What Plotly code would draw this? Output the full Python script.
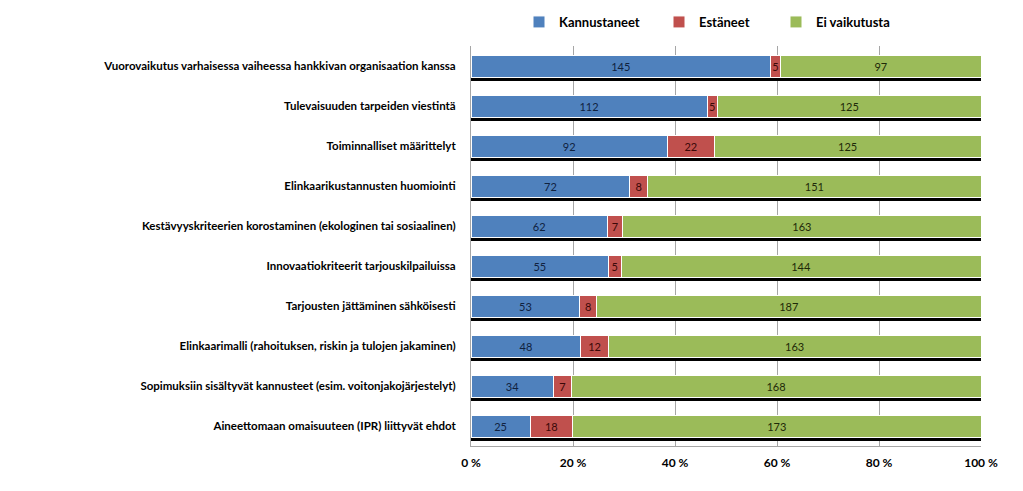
import plotly.graph_objects as go

categories = [
    "Vuorovaikutus varhaisessa vaiheessa hankkivan organisaation kanssa",
    "Tulevaisuuden tarpeiden viestintä",
    "Toiminnalliset määrittelyt",
    "Elinkaarikustannusten huomiointi",
    "Kestävyyskriteerien korostaminen (ekologinen tai sosiaalinen)",
    "Innovaatiokriteerit tarjouskilpailuissa",
    "Tarjousten jättäminen sähköisesti",
    "Elinkaarimalli (rahoituksen, riskin ja tulojen jakaminen)",
    "Sopimuksiin sisältyvät kannusteet (esim. voitonjakojärjestelyt)",
    "Aineettomaan omaisuuteen (IPR) liittyvät ehdot",
]
kannustaneet = [145, 112, 92, 72, 62, 55, 53, 48, 34, 25]
estaneet = [5, 5, 22, 8, 7, 5, 8, 12, 7, 18]
ei_vaikutusta = [97, 125, 125, 151, 163, 144, 187, 163, 168, 173]
tick_vals = [0, 20, 40, 60, 80, 100]
tick_text = ["0 %", "20 %", "40 %", "60 %", "80 %", "100 %"]

series = [
    ("Kannustaneet", kannustaneet, "#4F81BD", "#10223f", "legend", 511),
    ("Estäneet", estaneet, "#C0504D", "#3a0808", "legend2", 651),
    ("Ei vaikutusta", ei_vaikutusta, "#9BBB59", "#1e2a08", "legend3", 768),
]

FONT = "Lato"
W, H = 1015, 483
fig = go.Figure()
legends = {}
for name, vals, color, tcolor, lg, lx in series:
    fig.add_trace(go.Bar(
        y=categories, x=vals, name=name, orientation="h",
        marker=dict(color=color, line=dict(color="white", width=1)),
        text=[str(v) for v in vals], textposition="inside",
        insidetextanchor="middle",
        textfont=dict(family=FONT, size=11, color=tcolor),
        constraintext="none",
        width=0.55, legend=lg,
    ))
    legends[lg] = dict(
        orientation="h", xref="container", yref="container",
        x=lx / W, xanchor="left", y=1 - 14 / H, yanchor="middle",
        font=dict(family=FONT, size=13, color="black", weight="bold"),
        itemwidth=30, bgcolor="rgba(0,0,0,0)",
    )

# dark base line under each bar (Excel shadow effect)
for i, _ in enumerate(categories):
    fig.add_shape(type="line", xref="x", yref="y",
                  x0=0, x1=100, y0=i + 0.34, y1=i + 0.34,
                  line=dict(color="black", width=3))

fig.update_layout(
    barmode="stack", barnorm="percent",
    width=W, height=H,
    margin=dict(l=463, r=42, t=38, b=45, autoexpand=False),
    plot_bgcolor="white", paper_bgcolor="white",
    font=dict(family=FONT, size=12, color="black"),
    uniformtext=dict(minsize=8, mode="show"),
    showlegend=True,
    **legends,
)
fig.update_xaxes(range=[0, 100], tickvals=tick_vals, ticktext=tick_text,
                 showgrid=True, gridcolor="#A6A6A6", gridwidth=1,
                 showline=True, linecolor="#A6A6A6", mirror=False,
                 zeroline=False, ticks="", ticklabelstandoff=6,
                 tickfont=dict(family=FONT, size=12, color="black", weight="bold"))
fig.update_yaxes(autorange="reversed", showline=True, linecolor="#A6A6A6",
                 ticks="", ticklabelstandoff=12,
                 tickfont=dict(family=FONT, size=11.5, color="black", weight="bold"))

fig.write_html("out.html")
